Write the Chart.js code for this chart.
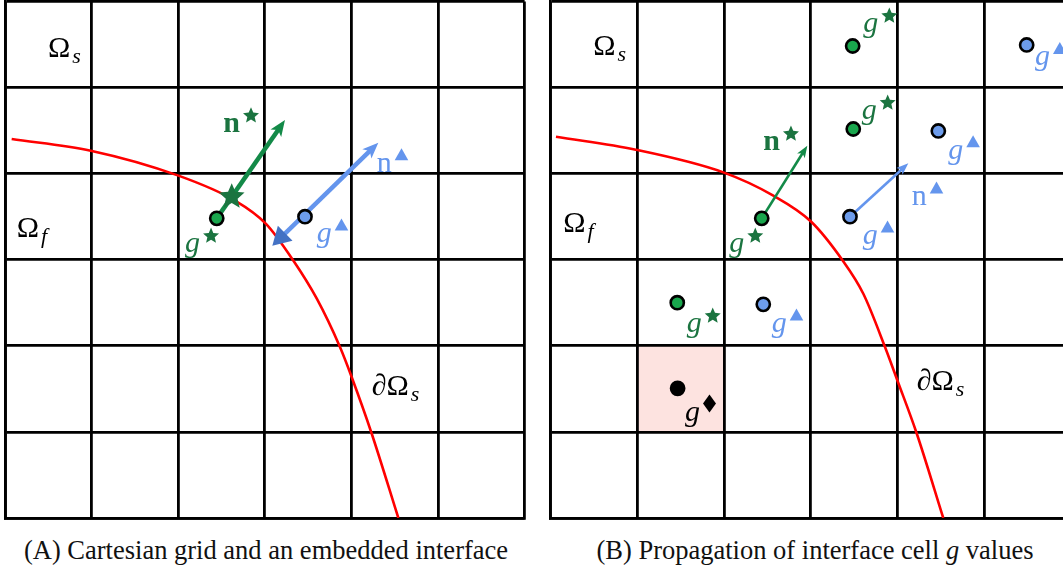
<!DOCTYPE html>
<html>
<head>
<meta charset="utf-8">
<script src="https://cdn.jsdelivr.net/npm/chart.js@4.4.0/dist/chart.umd.min.js"></script>
<style>
html, body { margin: 0; padding: 0; background: #fff; width: 1063px; height: 571px; overflow: hidden; }
.panel { position: absolute; top: 0; }
#panelA { left: 0; }
#panelB { left: 540px; }
.cap { position: absolute; top: 535px; transform: translateX(-50%); font-family: 'Liberation Serif', serif;
       font-size: 26.5px; color: #111; white-space: nowrap; }
</style>
</head>
<body>
<div class="panel" id="panelA"><canvas id="chartA" width="535" height="525"></canvas></div>
<div class="panel" id="panelB"><canvas id="chartB" width="540" height="525"></canvas></div>
<div class="cap" style="left:266px">(A) Cartesian grid and an embedded interface</div>
<div class="cap" style="left:815px">(B) Propagation of interface cell <i>g</i> values</div>
<script>
// 6 x 6 grid, everything in cell units (y = 0 at the bottom)
const gridMin = 0;
const gridMax = 6;

// Panel A: interface curve, interface cells and their normals
const curveAX = [0.077, 0.99, 2.003, 2.656, 3.014, 3.329, 3.599, 3.868, 4.003, 4.234, 4.542];
const curveAY = [4.402, 4.267, 3.977, 3.687, 3.417, 2.991, 2.55, 1.986, 1.638, 0.982, 0.0];
const gStarA = [[2.445, 3.481]];
const gTriA = [[3.464, 3.5]];
const normalStarA = [[2.445, 3.481], [3.233, 4.623]];
const normalTriA = [[3.176, 3.249], [4.311, 4.36]];
const starOnCurveA = [2.618, 3.732];
const triOnCurveA = [3.176, 3.249];

// Panel B: propagated values
const curveBX = [0.062, 0.982, 1.992, 2.569, 3.0, 3.369, 3.607, 3.857, 3.999, 4.223, 4.529];
const curveBY = [4.429, 4.278, 4.015, 3.745, 3.447, 2.991, 2.605, 1.986, 1.6, 0.982, 0.0];
const gStarB = [[3.484, 5.483], [3.491, 4.519], [2.435, 3.481], [1.461, 2.501]];
const gTriB = [[5.491, 5.495], [4.472, 4.496], [3.453, 3.5], [2.453, 2.482]];
const gDiaB = [[1.465, 1.506]];
const normalStarB = [[2.435, 3.481], [2.961, 4.325]];
const normalTriB = [[3.453, 3.5], [4.126, 4.12]];
const pinkCellB = [1, 2, 1, 2];

// text labels: [kind, anchor x, anchor y]
const labelsA = [
    ['Os', 0.497, 5.361], ['Of', 0.135, 3.268], ['dOs', 4.234, 1.429],
    ['nStar', 2.521, 4.487], ['gStar', 2.079, 3.09], ['nTri', 4.292, 4.023], ['gTri', 3.599, 3.206]
];
const labelsB = [
    ['Os', 0.492, 5.378], ['Of', 0.146, 3.326], ['dOs', 4.223, 1.487],
    ['gStar', 3.607, 5.646], ['gTri', 5.587, 5.257], ['gStar', 3.588, 4.637], ['gTri', 4.587, 4.173],
    ['nStar', 2.453, 4.275], ['nTri', 4.165, 3.636], ['gStar', 2.061, 3.09], ['gTri', 3.6, 3.183],
    ['gStar', 1.57, 2.161], ['gTri', 2.55, 2.161], ['gDia', 1.55, 1.132]
];

const GREEN = '#138a48';
const GREEN_DARK = '#1b7440';
const GREEN_FILL = '#19a64d';
const BLUE = '#6495ed';
const BLUE_DARK = '#4472c4';
const BLUE_FILL = '#6d9ceb';
const SERIF = "'Liberation Serif', 'DejaVu Serif', serif";

const labelStyles = {
    Os:   { text: '\u03A9', font: '30px ' + SERIF, sub: 's', color: '#000' },
    Of:   { text: '\u03A9', font: '30px ' + SERIF, sub: 'f', color: '#000' },
    dOs:  { text: '\u2202\u03A9', font: '30px ' + SERIF, sub: 's', color: '#000' },
    nStar:{ text: 'n', font: 'bold 30px ' + SERIF, sup: 'star', color: GREEN_DARK },
    gStar:{ text: 'g', font: 'italic 30px ' + SERIF, sup: 'star', color: GREEN_DARK },
    nTri: { text: 'n', font: '30px ' + SERIF, sup: 'tri', color: BLUE },
    gTri: { text: 'g', font: 'italic 30px ' + SERIF, sup: 'tri', color: BLUE },
    gDia: { text: 'g', font: 'italic 30px ' + SERIF, sup: 'dia', color: '#000' }
};

function toPts(xs, ys) {
    return xs.map((x, i) => ({ x: x, y: ys[i] }));
}
function pairs(list) {
    return list.map(p => ({ x: p[0], y: p[1] }));
}

function starPath(ctx, cx, cy, R) {
    ctx.beginPath();
    for (let i = 0; i < 10; i++) {
        const r = i % 2 === 0 ? R : R * 0.46;
        const a = -Math.PI / 2 + i * Math.PI / 5;
        ctx.lineTo(cx + r * Math.cos(a), cy + r * Math.sin(a));
    }
    ctx.closePath();
}

function drawMark(ctx, kind, left, cy, color) {
    ctx.fillStyle = color;
    if (kind === 'star') {
        starPath(ctx, left + 8, cy + 1, 8.4);
    } else if (kind === 'tri') {
        ctx.beginPath();
        ctx.moveTo(left + 6.8, cy - 6.5);
        ctx.lineTo(left + 13.6, cy + 5.5);
        ctx.lineTo(left, cy + 5.5);
        ctx.closePath();
    } else {
        ctx.beginPath();
        ctx.moveTo(left + 6.5, cy - 9);
        ctx.lineTo(left + 13, cy);
        ctx.lineTo(left + 6.5, cy + 9);
        ctx.lineTo(left, cy);
        ctx.closePath();
    }
    ctx.fill();
}

function drawArrow(ctx, x0, y0, x1, y1, color, width, headLen, headW) {
    const dx = x1 - x0, dy = y1 - y0;
    const len = Math.hypot(dx, dy);
    const ux = dx / len, uy = dy / len;
    ctx.strokeStyle = color;
    ctx.fillStyle = color;
    ctx.lineWidth = width;
    ctx.lineCap = 'butt';
    ctx.beginPath();
    ctx.moveTo(x0, y0);
    ctx.lineTo(x1 - ux * headLen * 0.6, y1 - uy * headLen * 0.6);
    ctx.stroke();
    ctx.beginPath();
    ctx.moveTo(x1, y1);
    ctx.lineTo(x1 - ux * headLen - uy * headW / 2, y1 - uy * headLen + ux * headW / 2);
    ctx.lineTo(x1 - ux * headLen * 0.75, y1 - uy * headLen * 0.75);
    ctx.lineTo(x1 - ux * headLen + uy * headW / 2, y1 - uy * headLen - ux * headW / 2);
    ctx.closePath();
    ctx.fill();
}

const diagramPlugin = {
    id: 'diagram',
    beforeDraw(chart, args, opts) {
        if (!opts.cell) return;
        const sx = chart.scales.x, sy = chart.scales.y;
        const c = opts.cell;
        const ctx = chart.ctx;
        ctx.save();
        ctx.fillStyle = '#fde3e0';
        const x0 = sx.getPixelForValue(c[0]), x1 = sx.getPixelForValue(c[1]);
        const y0 = sy.getPixelForValue(c[3]), y1 = sy.getPixelForValue(c[2]);
        ctx.fillRect(x0, y0, x1 - x0, y1 - y0);
        ctx.restore();
    },
    afterDatasetDraw(chart, args, opts) {
        if (args.index !== 0) return;
        const sx = chart.scales.x, sy = chart.scales.y;
        const ctx = chart.ctx;
        ctx.save();
        (opts.arrows || []).forEach(a => {
            drawArrow(ctx, sx.getPixelForValue(a.pts[0][0]), sy.getPixelForValue(a.pts[0][1]),
                sx.getPixelForValue(a.pts[1][0]), sy.getPixelForValue(a.pts[1][1]),
                a.color, a.width, a.head[0], a.head[1]);
        });
        if (opts.star) {
            ctx.fillStyle = GREEN_DARK;
            starPath(ctx, sx.getPixelForValue(opts.star[0]), sy.getPixelForValue(opts.star[1]), 13.5);
            ctx.fill();
        }
        if (opts.tri) {
            // reverse arrow head at the start of the blue normal
            const p = opts.tri;
            const cx = sx.getPixelForValue(p.at[0]), cy = sy.getPixelForValue(p.at[1]);
            const tx = sx.getPixelForValue(p.toward[0]), ty = sy.getPixelForValue(p.toward[1]);
            const len = Math.hypot(tx - cx, ty - cy);
            const ux = (tx - cx) / len, uy = (ty - cy) / len;
            const L = 18, W = 21;
            ctx.fillStyle = BLUE_DARK;
            ctx.beginPath();
            ctx.moveTo(cx - ux * L * 0.6, cy - uy * L * 0.6);
            ctx.lineTo(cx + ux * L * 0.4 - uy * W / 2, cy + uy * L * 0.4 + ux * W / 2);
            ctx.lineTo(cx + ux * L * 0.4 + uy * W / 2, cy + uy * L * 0.4 - ux * W / 2);
            ctx.closePath();
            ctx.fill();
        }
        ctx.restore();
    },
    afterDraw(chart, args, opts) {
        const sx = chart.scales.x, sy = chart.scales.y;
        const ctx = chart.ctx;
        ctx.save();
        ctx.textAlign = 'left';
        ctx.textBaseline = 'alphabetic';
        (opts.labels || []).forEach(l => {
            const st = labelStyles[l[0]];
            const X = sx.getPixelForValue(l[1]), Y = sy.getPixelForValue(l[2]);
            ctx.font = st.font;
            ctx.fillStyle = st.color;
            ctx.fillText(st.text, X, Y);
            const w = ctx.measureText(st.text).width;
            if (st.sub) {
                ctx.font = 'italic 22px ' + SERIF;
                ctx.fillText(st.sub, X + w + 2, Y + 6);
            }
            if (st.sup) {
                drawMark(ctx, st.sup, X + w + 3, Y - 17, st.color);
            }
        });
        ctx.restore();
    }
};

function axis() {
    return {
        type: 'linear', min: gridMin, max: gridMax,
        ticks: { display: false, stepSize: 1 },
        grid: { color: '#000', lineWidth: 2.8, drawTicks: false },
        border: { display: true, color: '#000', width: 2.8 }
    };
}

function circles(list, fill) {
    return {
        data: pairs(list), showLine: false, order: 0, clip: false,
        pointRadius: 6.6, pointHoverRadius: 6.6,
        pointBackgroundColor: fill, pointBorderColor: '#000', pointBorderWidth: 2.6
    };
}

function makeChart(id, curve, pointSets, padding, extras) {
    return new Chart(document.getElementById(id).getContext('2d'), {
        type: 'scatter',
        data: {
            datasets: [{
                data: curve, showLine: true, order: 10,
                borderColor: '#ff0000', borderWidth: 2.6, pointRadius: 0,
                cubicInterpolationMode: 'monotone'
            }].concat(pointSets)
        },
        options: {
            responsive: false,
            animation: false,
            events: [],
            layout: { padding: padding, autoPadding: false },
            scales: { x: axis(), y: axis() },
            plugins: { legend: { display: false }, tooltip: { enabled: false }, diagram: extras }
        },
        plugins: [diagramPlugin]
    });
}

makeChart('chartA', toPts(curveAX, curveAY),
    [circles(gStarA, GREEN_FILL), circles(gTriA, BLUE_FILL)],
    { left: 5, top: 1.5, right: 10.4, bottom: 7 },
    {
        arrows: [
            { pts: normalStarA, color: GREEN, width: 4.5, head: [16, 13] },
            { pts: normalTriA, color: BLUE, width: 4.5, head: [16, 13] }
        ],
        star: starOnCurveA,
        tri: { at: triOnCurveA, toward: normalTriA[1] },
        labels: labelsA
    });

makeChart('chartB', toPts(curveBX, curveBY),
    [circles(gStarB, GREEN_FILL), circles(gTriB, BLUE_FILL), circles(gDiaB, '#000')],
    { left: 10.6, top: 1.5, right: 9.2, bottom: 7 },
    {
        cell: pinkCellB,
        arrows: [
            { pts: normalStarB, color: GREEN, width: 2.6, head: [12, 9] },
            { pts: normalTriB, color: BLUE, width: 2.6, head: [12, 9] }
        ],
        labels: labelsB
    });
</script>
</body>
</html>
